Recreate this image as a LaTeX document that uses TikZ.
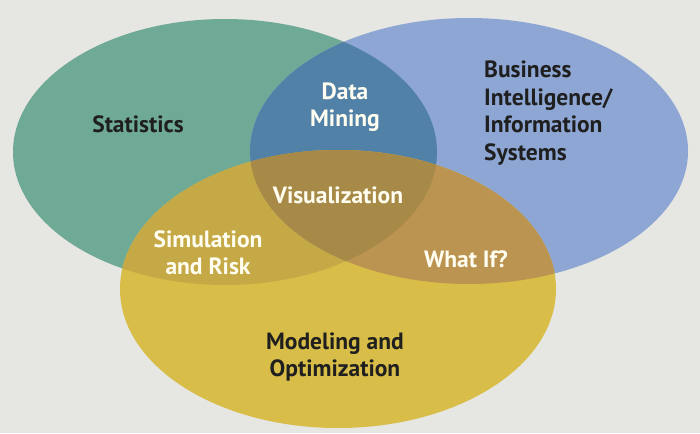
\documentclass[tikz,border=0pt]{standalone}
\usepackage{fontspec}
\setmainfont{PT Sans}
\begin{document}
\begin{tikzpicture}[x=1pt,y=-1pt,
  lab/.style={font=\bfseries\fontsize{23.5}{27.5}\selectfont, align=center, inner sep=0pt},
  dark/.style={lab, text=black!88},
  light/.style={lab, text=white!94!yellow}]
\definecolor{bg}{HTML}{E6E6E2}
\definecolor{cG}{HTML}{6FAA96}
\definecolor{cB}{HTML}{8DA6D3}
\definecolor{cY}{HTML}{D8BE48}
\definecolor{cGB}{HTML}{5281A8}
\definecolor{cGY}{HTML}{C6A947}
\definecolor{cBY}{HTML}{BC9452}
\definecolor{cGBY}{HTML}{A88A48}
\def\G{(225,152) ellipse [x radius=212pt, y radius=133pt]}
\def\B{(469,151) ellipse [x radius=219pt, y radius=133pt]}
\def\Y{(338,289) ellipse [x radius=218pt, y radius=139pt]}
\fill[bg] (0,0) rectangle (700,433);
\useasboundingbox (0,0) rectangle (700,433);
\fill[cG] \G;
\fill[cB] \B;
\fill[cY] \Y;
\begin{scope}\clip \G; \fill[cGB] \B; \end{scope}
\begin{scope}\clip \G; \fill[cGY] \Y; \end{scope}
\begin{scope}\clip \B; \fill[cBY] \Y; \end{scope}
\begin{scope}\clip \G; \clip \B; \fill[cGBY] \Y; \end{scope}
\node[dark] (stat) at (138,124) {Statistics};
\node[light] (dm) at (345,107) {Data\\Mining};
\node[dark, align=left, anchor=west] (bi) at (484,113) {Business\\Intelligence/\\Information\\Systems};
\node[light] (vis) at (338,195) {Visualization};
\node[light] (sim) at (208,253) {Simulation\\and Risk};
\node[light] (wi) at (466,259) {What If?};
\node[dark] (mo) at (335,357) {Modeling and\\Optimization};
\end{tikzpicture}
\end{document}
